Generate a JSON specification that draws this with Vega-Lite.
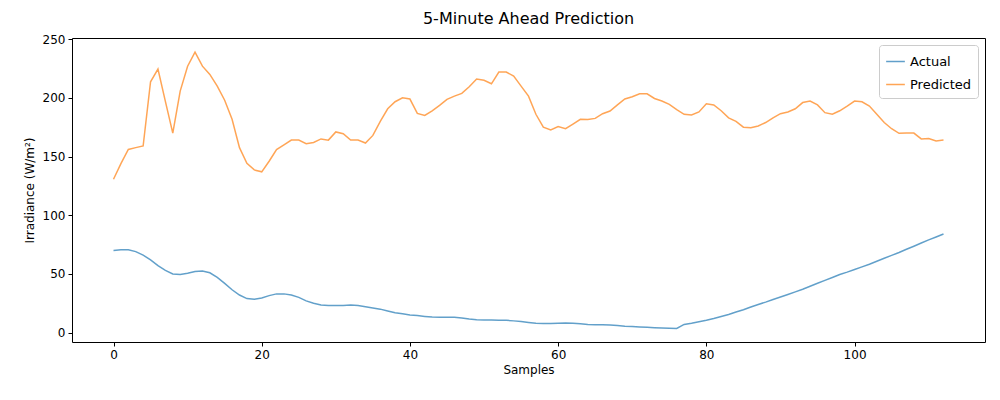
{
  "$schema": "https://vega.github.io/schema/vega-lite/v6.json",
  "autosize": "none",
  "padding": {"left": 72, "top": 38, "right": 15, "bottom": 58},
  "width": 913,
  "height": 304,
  "background": "white",
  "title": {"text": "5-Minute Ahead Prediction", "font": "DejaVu Sans", "fontSize": 16, "fontWeight": "normal", "offset": 6, "color": "black"},
  "data": {
    "values": [
      {"s": 0, "a": 70, "p": 130.7}, {"s": 1, "a": 70.5, "p": 144}, {"s": 2, "a": 70.5, "p": 156}, {"s": 3, "a": 69, "p": 157.6}, {"s": 4, "a": 66, "p": 159},
      {"s": 5, "a": 62, "p": 213.7}, {"s": 6, "a": 57, "p": 224.5}, {"s": 7, "a": 53, "p": 197}, {"s": 8, "a": 50, "p": 170}, {"s": 9, "a": 49.5, "p": 205.8},
      {"s": 10, "a": 50.5, "p": 227}, {"s": 11, "a": 52, "p": 239}, {"s": 12, "a": 52.5, "p": 227}, {"s": 13, "a": 51, "p": 220}, {"s": 14, "a": 47, "p": 210},
      {"s": 15, "a": 42, "p": 198}, {"s": 16, "a": 36.5, "p": 181.7}, {"s": 17, "a": 32, "p": 157.6}, {"s": 18, "a": 29, "p": 144.3}, {"s": 19, "a": 28.5, "p": 138.6},
      {"s": 20, "a": 29.5, "p": 137}, {"s": 21, "a": 31.5, "p": 146}, {"s": 22, "a": 33, "p": 156}, {"s": 23, "a": 33, "p": 160}, {"s": 24, "a": 32, "p": 164},
      {"s": 25, "a": 30, "p": 164}, {"s": 26, "a": 27, "p": 161}, {"s": 27, "a": 25, "p": 162}, {"s": 28, "a": 23.5, "p": 165}, {"s": 29, "a": 23, "p": 164},
      {"s": 30, "a": 23, "p": 171}, {"s": 31, "a": 23.2, "p": 169.5}, {"s": 32, "a": 23.5, "p": 164}, {"s": 33, "a": 23, "p": 164}, {"s": 34, "a": 22, "p": 161.5},
      {"s": 35, "a": 21, "p": 168}, {"s": 36, "a": 20, "p": 180}, {"s": 37, "a": 18.5, "p": 190.7}, {"s": 38, "a": 17, "p": 196.7}, {"s": 39, "a": 16, "p": 200},
      {"s": 40, "a": 15, "p": 199}, {"s": 41, "a": 14.5, "p": 186.8}, {"s": 42, "a": 13.8, "p": 185}, {"s": 43, "a": 13.2, "p": 189}, {"s": 44, "a": 13, "p": 193.6},
      {"s": 45, "a": 13, "p": 198.7}, {"s": 46, "a": 13, "p": 201.5}, {"s": 47, "a": 12.5, "p": 203.8}, {"s": 48, "a": 11.5, "p": 209.5}, {"s": 49, "a": 11, "p": 216},
      {"s": 50, "a": 10.8, "p": 215}, {"s": 51, "a": 10.7, "p": 212}, {"s": 52, "a": 10.6, "p": 222}, {"s": 53, "a": 10.5, "p": 222}, {"s": 54, "a": 10, "p": 218.5},
      {"s": 55, "a": 9.5, "p": 210}, {"s": 56, "a": 8.7, "p": 201.5}, {"s": 57, "a": 8, "p": 186}, {"s": 58, "a": 7.8, "p": 175}, {"s": 59, "a": 7.8, "p": 172.6},
      {"s": 60, "a": 8, "p": 175.5}, {"s": 61, "a": 8.2, "p": 173.7}, {"s": 62, "a": 8, "p": 177.7}, {"s": 63, "a": 7.5, "p": 181.7}, {"s": 64, "a": 7, "p": 181.5},
      {"s": 65, "a": 6.8, "p": 182.5}, {"s": 66, "a": 6.6, "p": 186.5}, {"s": 67, "a": 6.5, "p": 188.8}, {"s": 68, "a": 6, "p": 194}, {"s": 69, "a": 5.5, "p": 199},
      {"s": 70, "a": 5.2, "p": 201}, {"s": 71, "a": 4.8, "p": 203.5}, {"s": 72, "a": 4.5, "p": 203.5}, {"s": 73, "a": 4.2, "p": 199.5}, {"s": 74, "a": 4, "p": 197.3},
      {"s": 75, "a": 3.8, "p": 194.4}, {"s": 76, "a": 3.5, "p": 190}, {"s": 77, "a": 7, "p": 186}, {"s": 78, "a": 8, "p": 185.4}, {"s": 79, "a": 9.2, "p": 188},
      {"s": 80, "a": 10.5, "p": 195}, {"s": 81, "a": 12, "p": 194}, {"s": 82, "a": 13.8, "p": 189}, {"s": 83, "a": 15.5, "p": 183}, {"s": 84, "a": 17.5, "p": 180},
      {"s": 85, "a": 19.5, "p": 175}, {"s": 86, "a": 21.8, "p": 174.6}, {"s": 87, "a": 24, "p": 176}, {"s": 88, "a": 26, "p": 179}, {"s": 89, "a": 28.2, "p": 183},
      {"s": 90, "a": 30.3, "p": 186.5}, {"s": 91, "a": 32.5, "p": 188}, {"s": 92, "a": 34.7, "p": 190.7}, {"s": 93, "a": 37, "p": 196}, {"s": 94, "a": 39.5, "p": 197.3},
      {"s": 95, "a": 42, "p": 194}, {"s": 96, "a": 44.5, "p": 187.4}, {"s": 97, "a": 47, "p": 186}, {"s": 98, "a": 49.5, "p": 189}, {"s": 99, "a": 51.5, "p": 193},
      {"s": 100, "a": 53.7, "p": 197.3}, {"s": 101, "a": 56, "p": 196.7}, {"s": 102, "a": 58.3, "p": 193}, {"s": 103, "a": 60.8, "p": 186}, {"s": 104, "a": 63.3, "p": 179},
      {"s": 105, "a": 65.8, "p": 173.7}, {"s": 106, "a": 68.3, "p": 169.8}, {"s": 107, "a": 71, "p": 170}, {"s": 108, "a": 73.6, "p": 170}, {"s": 109, "a": 76.3, "p": 165},
      {"s": 110, "a": 79, "p": 165.3}, {"s": 111, "a": 81.5, "p": 163.3}, {"s": 112, "a": 84, "p": 164}
    ]
  },
  "transform": [
    {"fold": ["a", "p"], "as": ["key", "value"]},
    {"lookup": "key", "from": {"data": {"values": [{"key": "a", "series": "Actual"}, {"key": "p", "series": "Predicted"}]}, "key": "key", "fields": ["series"]}}
  ],
  "mark": {"type": "line", "strokeWidth": 1.5, "opacity": 0.7},
  "encoding": {
    "x": {"field": "s", "type": "quantitative", "title": "Samples",
      "scale": {"domain": [-5.6, 117.6], "nice": false, "zero": false},
      "axis": {"values": [0, 20, 40, 60, 80, 100]}},
    "y": {"field": "value", "type": "quantitative", "title": "Irradiance (W/m²)",
      "scale": {"domain": [-8, 251], "nice": false, "zero": false},
      "axis": {"values": [0, 50, 100, 150, 200, 250]}},
    "color": {"field": "series", "type": "nominal",
      "scale": {"domain": ["Actual", "Predicted"], "range": ["#1f77b4", "#ff7f0e"]},
      "legend": {"title": null, "orient": "top-right", "symbolType": "stroke", "symbolStrokeWidth": 1.5, "symbolSize": 350,
        "strokeColor": "#cccccc", "fillColor": "white", "padding": 6, "cornerRadius": 3, "offset": 7,
        "labelFontSize": 13, "labelFont": "DejaVu Sans", "labelColor": "black", "symbolOpacity": 0.7, "rowPadding": 5}}
  },
  "config": {
    "view": {"stroke": "black", "strokeWidth": 1},
    "axis": {"grid": false, "domain": false, "tickColor": "black", "tickSize": 4, "labelFont": "DejaVu Sans", "labelFontSize": 12,
      "labelColor": "black", "titleFont": "DejaVu Sans", "titleFontSize": 12, "titleFontWeight": "normal", "titleColor": "black", "labelPadding": 3},
    "axisX": {"titlePadding": 4},
    "axisY": {"titlePadding": 6}
  }
}
